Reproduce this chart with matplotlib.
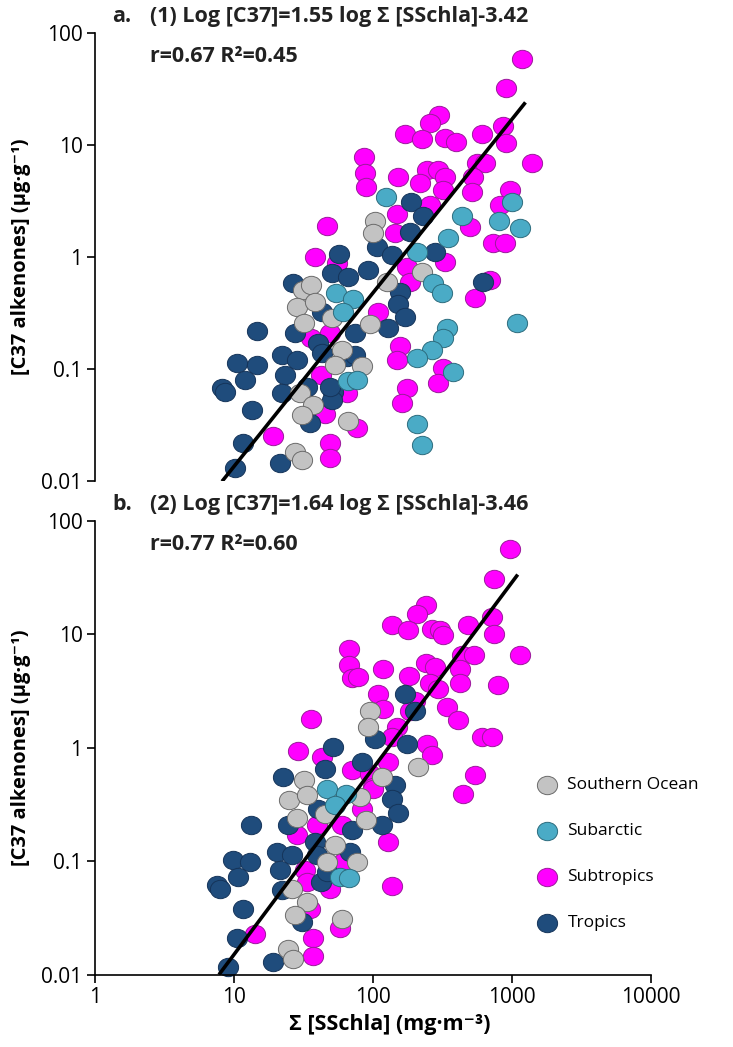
import math
import matplotlib
matplotlib.use('Agg')
import matplotlib.pyplot as plt
from matplotlib.markers import MarkerStyle
from matplotlib.transforms import Affine2D

plt.rcParams['font.family'] = ['Open Sans', 'DejaVu Sans']

# ---------------- panel a ----------------
a_so_x = [103, 100, 31.4, 36, 28.4, 38, 32, 51, 95, 60, 53, 83, 30, 37, 31, 66, 27.5, 31, 225, 126]
a_so_y = [2.1, 1.64, 0.51, 0.56, 0.36, 0.40, 0.26, 0.285, 0.25, 0.148, 0.109, 0.106, 0.061, 0.048,
          0.039, 0.034, 0.018, 0.0154, 0.73, 0.60]

a_sa_x = [124, 437, 806, 1000, 1142, 346, 207, 270, 313, 54, 72, 61, 66, 77, 1086, 341, 319, 266,
          207, 377, 207, 225]
a_sa_y = [3.4, 2.3, 2.1, 3.1, 1.8, 1.48, 1.11, 0.59, 0.48, 0.48, 0.42, 0.32, 0.078, 0.080, 0.26,
          0.23, 0.19, 0.148, 0.125, 0.094, 0.032, 0.021]

a_st_x = [1180, 906, 298, 257, 170, 225, 330, 395, 608, 861, 906, 1393, 86, 87.5, 89, 151, 245, 294,
          330, 218, 319, 560, 640, 524, 515, 968, 820, 257, 149, 47, 38, 55, 499, 730, 891, 144, 330,
          176, 695, 542, 185, 109, 156, 149, 319, 294, 176, 162, 36, 49, 42, 65, 45, 77, 19, 49, 49]
a_st_y = [58.6, 32, 18.5, 15.7, 12.5, 11.3, 11.5, 10.6, 12.5, 14.8, 10.4, 6.9, 7.8, 5.6, 4.2, 5.2,
          6.0, 6.0, 5.2, 4.6, 4.0, 6.9, 6.9, 5.2, 3.8, 4.0, 2.9, 2.9, 2.4, 1.9, 1.0, 0.88, 1.85, 1.33,
          1.33, 1.64, 0.90, 0.81, 0.62, 0.43, 0.60, 0.32, 0.16, 0.12, 0.102, 0.075, 0.068, 0.050,
          0.19, 0.21, 0.088, 0.061, 0.040, 0.030, 0.025, 0.022, 0.016]

a_tr_x = [57, 107, 26.6, 51, 66, 92, 188, 229, 185, 137, 279, 618, 156, 151, 170, 128, 74, 65, 14.6,
          10.5, 14.6, 12.0, 22, 28.4, 23.3, 8.2, 8.6, 22, 13.5, 11.6, 10.2, 21.4, 74, 51.5, 51, 40,
          27.5, 43, 33.5, 35, 49, 43]
a_tr_y = [1.06, 1.23, 0.59, 0.72, 0.66, 0.77, 3.1, 2.3, 1.67, 1.04, 1.11, 0.60, 0.49, 0.38, 0.29,
          0.23, 0.21, 0.128, 0.22, 0.113, 0.109, 0.080, 0.133, 0.12, 0.088, 0.068, 0.062, 0.061,
          0.043, 0.022, 0.013, 0.0145, 0.133, 0.062, 0.053, 0.17, 0.21, 0.139, 0.069, 0.033, 0.069,
          0.32]

# ---------------- panel b ----------------
b_so_x = [95, 92, 211, 116, 89, 81, 32, 25, 33.5, 28.4, 45, 53, 47, 77, 26, 33.5, 27.5, 60, 24.5, 26.6]
b_so_y = [2.1, 1.53, 0.68, 0.55, 0.23, 0.37, 0.52, 0.35, 0.385, 0.24, 0.26, 0.14, 0.099, 0.099,
          0.057, 0.044, 0.034, 0.031, 0.017, 0.0138]

b_sa_x = [47, 64, 53, 58, 67]
b_sa_y = [0.435, 0.39, 0.315, 0.073, 0.072]

b_st_x = [968, 743, 241, 207, 137, 179, 266, 303, 319, 482, 718, 743, 1142, 67, 67, 71, 78, 118, 182,
          241, 279, 257, 294, 437, 533, 423, 423, 793, 109, 200, 341, 118, 36, 149, 185, 409, 608,
          718, 245, 266, 128, 137, 28.9, 43, 71, 95, 100, 542, 444, 128, 137, 28.4, 39.5, 60, 32.4,
          33.5, 61, 49, 35, 58, 14.2, 37, 37, 83, 100]
b_st_y = [56.6, 30.8, 18.2, 15.2, 12.1, 11.0, 11.2, 11.0, 9.9, 12.1, 14.3, 10.1, 6.6, 7.4, 5.4, 4.1,
          4.2, 5.0, 4.3, 5.6, 5.2, 3.7, 3.3, 6.6, 6.6, 5.0, 3.7, 3.6, 3.0, 2.6, 2.3, 2.2, 1.8, 1.53,
          2.1, 1.77, 1.25, 1.25, 1.08, 0.87, 0.75, 1.25, 0.94, 0.83, 0.64, 0.59, 0.45, 0.58, 0.39,
          0.149, 0.061, 0.17, 0.21, 0.21, 0.084, 0.066, 0.099, 0.057, 0.038, 0.026, 0.023, 0.021,
          0.0147, 0.29, 0.435]

b_tr_x = [170, 200, 176, 103, 51.5, 83, 22.5, 45, 144, 137, 151, 116, 68, 13.3, 24.5, 38, 9.8, 13,
          20.4, 26, 21.4, 10.7, 7.55, 7.9, 22, 42, 11.6, 31, 10.5, 19, 9.1, 40, 71, 47, 39.5]
b_tr_y = [3.0, 2.1, 1.08, 1.20, 1.02, 0.75, 0.55, 0.65, 0.47, 0.355, 0.27, 0.21, 0.121, 0.21, 0.21,
          0.149, 0.103, 0.099, 0.121, 0.114, 0.084, 0.073, 0.062, 0.057, 0.056, 0.066, 0.038, 0.029,
          0.021, 0.013, 0.0118, 0.29, 0.19, 0.081, 0.114]

# regression: log C37 = slope * log chla + intercept, drawn between two chla values
fit_a = (1.55, -3.42, 8.2, 1250)
fit_b = (1.64, -3.46, 7.8, 1100)

x_ticks = [1, 10, 100, 1000, 10000]
x_tick_labels = ['1', '10', '100', '1000', '10000']
y_ticks = [0.01, 0.1, 1, 10, 100]
y_tick_labels = ['0.01', '0.1', '1', '10', '100']

groups = ['Southern Ocean', 'Subarctic', 'Subtropics', 'Tropics']
fills = {'Southern Ocean': '#c3c3c3', 'Subarctic': '#4aabc6', 'Subtropics': '#ff00ff', 'Tropics': '#1f4c7c'}
edges = {'Southern Ocean': '#6a6a6a', 'Subarctic': '#2c6c7e', 'Subtropics': '#9a1a9a', 'Tropics': '#15345a'}
draw_order = ['Subtropics', 'Tropics', 'Southern Ocean', 'Subarctic']

ell = MarkerStyle('o', transform=Affine2D().scale(1.1, 1.0))

fig = plt.figure(figsize=(7.33, 10.47), dpi=100)
ax_a = fig.add_axes([0.1296, 0.5406, 0.7585, 0.4279])
ax_b = fig.add_axes([0.1296, 0.0688, 0.7585, 0.4336])

panels = [
    (ax_a, {'Southern Ocean': (a_so_x, a_so_y), 'Subarctic': (a_sa_x, a_sa_y),
            'Subtropics': (a_st_x, a_st_y), 'Tropics': (a_tr_x, a_tr_y)}, fit_a),
    (ax_b, {'Southern Ocean': (b_so_x, b_so_y), 'Subarctic': (b_sa_x, b_sa_y),
            'Subtropics': (b_st_x, b_st_y), 'Tropics': (b_tr_x, b_tr_y)}, fit_b),
]

handles = {}
for ax, data, fit in panels:
    for g in draw_order:
        xs, ys = data[g]
        h = ax.scatter(xs, ys, s=175, marker=ell, facecolor=fills[g], edgecolor=edges[g],
                       linewidth=0.7, zorder=2, label=g, clip_on=False)
        handles[g] = h
    slope, icpt, x0, x1 = fit
    lx = [x0, x1]
    ly = [10 ** (slope * math.log10(v) + icpt) for v in lx]
    ax.plot(lx, ly, color='black', lw=2.6, zorder=3, solid_capstyle='butt')

    ax.set_xscale('log')
    ax.set_yscale('log')
    ax.set_xlim(1, 10000)
    ax.set_ylim(0.01, 100)
    ax.set_yticks(y_ticks, y_tick_labels)
    ax.minorticks_off()
    for s in ['top', 'right']:
        ax.spines[s].set_visible(False)
    ax.spines['left'].set_linewidth(1.2)
    ax.spines['bottom'].set_linewidth(1.2)
    ax.tick_params(axis='both', labelsize=15, length=6, width=1.2, direction='out', pad=3)
    ax.set_ylabel('[C37 alkenones] (µg·g⁻¹)', fontsize=14.5, fontweight='bold')
    ax.yaxis.set_label_coords(-0.115, 0.5)

# top panel has no x axis
ax_a.spines['bottom'].set_visible(False)
ax_a.set_xticks(x_ticks, [''] * len(x_ticks))
ax_a.tick_params(axis='x', length=0)

ax_b.set_xticks(x_ticks, x_tick_labels)
ax_b.minorticks_off()
ax_b.set_xlabel('Σ [SSchla] (mg·m⁻³)', fontsize=15.5, fontweight='bold', labelpad=4)
ax_b.xaxis.set_label_coords(0.53, -0.085)

# panel titles
tkw = dict(fontsize=15.5, fontweight='bold', va='center', color='#222222')
fig.text(0.153, 0.9838, 'a.', **tkw)
fig.text(0.2046, 0.9838, '(1) Log [C37]=1.55 log Σ [SSchla]-3.42', **tkw)
fig.text(0.2046, 0.9456, 'r=0.67 R²=0.45', **tkw)
fig.text(0.153, 0.5177, 'b.', **tkw)
fig.text(0.2046, 0.5177, '(2) Log [C37]=1.64 log Σ [SSchla]-3.46', **tkw)
fig.text(0.2046, 0.4795, 'r=0.77 R²=0.60', **tkw)

ax_b.legend([handles[g] for g in groups], groups, loc='upper left',
            bbox_to_anchor=(537 / 733, 1 - 777 / 1047), bbox_transform=fig.transFigure,
            frameon=False, fontsize=12.5, labelspacing=1.72, handletextpad=0.55,
            handlelength=1.2, borderpad=0, borderaxespad=0, scatterpoints=1)

fig.savefig('out.png', dpi=100)
